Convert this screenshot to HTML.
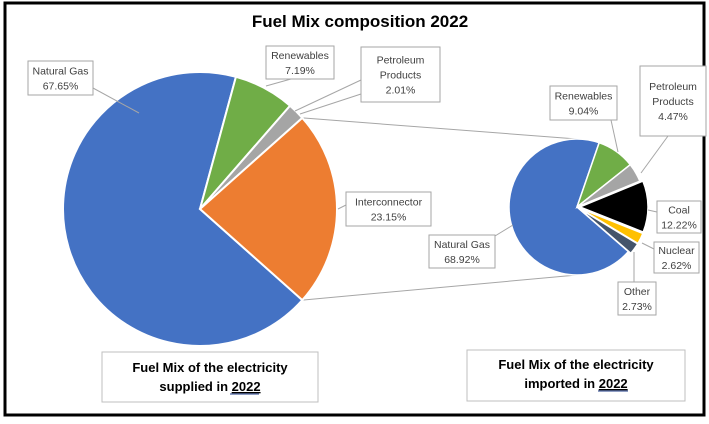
<!DOCTYPE html>
<html><head><meta charset="utf-8"><style>
html,body{margin:0;padding:0;background:#fff;}
body{width:709px;height:419px;overflow:hidden;font-family:"Liberation Sans",sans-serif;}
svg text{font-family:"Liberation Sans",sans-serif;}
</style></head><body>
<svg id="chart" width="709" height="419" viewBox="0 0 709 419" xmlns="http://www.w3.org/2000/svg">
<rect x="5" y="3" width="699" height="412" fill="#fff" stroke="#000" stroke-width="3"/>
<text x="360" y="27" text-anchor="middle" font-size="17" font-weight="bold" fill="#000">Fuel Mix composition 2022</text>
<g id="connectors"></g>
<g id="pies"></g>
<g id="labels"></g>
<g>
<rect x="102" y="352" width="216" height="50" fill="#fff" stroke="#bfbfbf"/>
<text x="210" y="372" text-anchor="middle" font-size="13" font-weight="bold">Fuel Mix of the electricity</text>
<text x="210" y="391" text-anchor="middle" font-size="13" font-weight="bold">supplied in <tspan text-decoration="underline">2022</tspan></text>
<line x1="230" y1="394" x2="259" y2="394" stroke="#1f3c88" stroke-width="1"/>
</g>
<g>
<rect x="467" y="350" width="218" height="51" fill="#fff" stroke="#bfbfbf"/>
<text x="576" y="369" text-anchor="middle" font-size="13" font-weight="bold">Fuel Mix of the electricity</text>
<text x="576" y="388" text-anchor="middle" font-size="13" font-weight="bold">imported in <tspan text-decoration="underline">2022</tspan></text>
<line x1="598" y1="391" x2="628" y2="391" stroke="#1f3c88" stroke-width="1"/>
</g>
</svg>
<script>
// Main pie data
const mainCategories = ["Natural Gas", "Renewables", "Petroleum Products", "Interconnector"];
const mainValues = [67.65, 7.19, 2.01, 23.15];
// Secondary pie data
const subCategories = ["Natural Gas", "Renewables", "Petroleum Products", "Coal", "Nuclear", "Other"];
const subValues = [68.92, 9.04, 4.47, 12.22, 2.62, 2.73];

const NS = "http://www.w3.org/2000/svg";
const mainColors = ["#4472c4", "#70ad47", "#a5a5a5", "#ed7d31"];
const subColors = ["#4472c4", "#70ad47", "#a5a5a5", "#000000", "#ffc000", "#44546a"];
const M = {cx: 200, cy: 209, r: 137};
const S = {cx: 577, cy: 207, r: 68};

function pt(c, r, deg) { const a = deg * Math.PI / 180; return [c.cx + r * Math.sin(a), c.cy - r * Math.cos(a)]; }
function arc(c, a0, a1, off) {
  const mid = (a0 + a1) / 2, a = mid * Math.PI / 180;
  const cc = {cx: c.cx + off * Math.sin(a), cy: c.cy - off * Math.cos(a)};
  const p0 = pt(cc, c.r, a0), p1 = pt(cc, c.r, a1);
  const large = (a1 - a0) > 180 ? 1 : 0;
  return `M${cc.cx},${cc.cy}L${p0[0]},${p0[1]}A${c.r},${c.r} 0 ${large} 1 ${p1[0]},${p1[1]}Z`;
}
const pies = document.getElementById('pies');
function slug(s){return s.toLowerCase().replace(/[^a-z0-9]+/g,'-');}

// Main pie: interconnector (last) centered at east (90deg)
const mTot = mainValues.reduce((a, b) => a + b, 0);
const interDeg = mainValues[3] / mTot * 360;
let mStart = [];
{
  let a = 90 - interDeg / 2; // interconnector start
  mStart[3] = a;
  // preceding slices counterclockwise
  for (let i = 2; i >= 0; i--) { a -= mainValues[i] / mTot * 360; mStart[i] = a; }
}
let mAngles = [];
for (let i = 0; i < mainValues.length; i++) {
  const a0 = mStart[i], a1 = a0 + mainValues[i] / mTot * 360;
  mAngles.push([a0, a1]);
  const p = document.createElementNS(NS, 'path');
  p.setAttribute('d', arc(M, a0, a1, 0));
  p.setAttribute('fill', mainColors[i]);
  p.setAttribute('stroke', '#fff');
  p.setAttribute('stroke-width', '2');
  
  
  pies.appendChild(p);
}
// Sub pie: starts after natural gas, placed so natural gas ends at ~19deg
const sTot = subValues.reduce((a, b) => a + b, 0);
let sA = 19 - subValues[0] / sTot * 360;
for (let i = 0; i < subValues.length; i++) {
  const d = subValues[i] / sTot * 360;
  const p = document.createElementNS(NS, 'path');
  p.setAttribute('d', arc(S, sA, sA + d, i >= 3 ? 3 : 0));
  p.setAttribute('fill', subColors[i]);
  p.setAttribute('stroke', '#fff');
  p.setAttribute('stroke-width', '1.5');
  
  
  pies.appendChild(p);
  sA += d;
}
// Connector lines
const con = document.getElementById('connectors');
const ia = mAngles[3];
const cTop = pt(M, M.r, ia[0]), cBot = pt(M, M.r, ia[1]);
[[cTop, [S.cx, S.cy - S.r]], [cBot, [S.cx, S.cy + S.r]]].forEach((pr, k) => {
  const l = document.createElementNS(NS, 'line');
  l.setAttribute('x1', pr[0][0]); l.setAttribute('y1', pr[0][1]);
  l.setAttribute('x2', pr[1][0]); l.setAttribute('y2', pr[1][1]);
  l.setAttribute('stroke', '#a6a6a6'); l.setAttribute('stroke-width', '1');
  
  
  con.appendChild(l);
});

// Labels (box positions)
const labelDefs = [
  {name:"main-label-natural-gas", lines:[mainCategories[0], mainValues[0].toFixed(2)+"%"], x:28,y:61,w:65,h:34, lead:[[93,88],[139,113]]},
  {name:"main-label-renewables", lines:[mainCategories[1], mainValues[1].toFixed(2)+"%"], x:266,y:46,w:68,h:33, lead:[[291,79],[266,86]]},
  {name:"main-label-petroleum", lines:["Petroleum","Products", mainValues[2].toFixed(2)+"%"], x:361,y:47,w:79,h:55, lead:[[361,80],[295,111],[361,94],[300,114]]},
  {name:"main-label-interconnector", lines:[mainCategories[3], mainValues[3].toFixed(2)+"%"], x:346,y:192,w:85,h:34, lead:[[346,205],[338,209]]},
  {name:"sub-label-renewables", lines:[subCategories[1], subValues[1].toFixed(2)+"%"], x:550,y:86,w:67,h:34, lead:[[611,120],[618,152]]},
  {name:"sub-label-petroleum", lines:["Petroleum","Products", subValues[2].toFixed(2)+"%"], x:640,y:66,w:66,h:70, lead:[[668,136],[641,173]]},
  {name:"sub-label-coal", lines:[subCategories[3], subValues[3].toFixed(2)+"%"], x:657,y:201,w:44,h:32, lead:[[657,212],[648,210]]},
  {name:"sub-label-nuclear", lines:[subCategories[4], subValues[4].toFixed(2)+"%"], x:654,y:242,w:45,h:31, lead:[[654,249],[642,243]]},
  {name:"sub-label-other", lines:[subCategories[5], subValues[5].toFixed(2)+"%"], x:618,y:282,w:38,h:33, lead:[[634,282],[634,252]]},
  {name:"sub-label-natural-gas", lines:[subCategories[0], subValues[0].toFixed(2)+"%"], x:429,y:235,w:66,h:33, lead:[[495,236],[513,225]]}
];
const lg = document.getElementById('labels');
labelDefs.forEach(d => {
  const g = document.createElementNS(NS, 'g');
  
  
  for (let i = 0; i + 1 < d.lead.length; i += 2) {
    const l = document.createElementNS(NS, 'line');
    l.setAttribute('x1', d.lead[i][0]); l.setAttribute('y1', d.lead[i][1]);
    l.setAttribute('x2', d.lead[i+1][0]); l.setAttribute('y2', d.lead[i+1][1]);
    l.setAttribute('stroke', '#a6a6a6');
    g.appendChild(l);
  }
  const r = document.createElementNS(NS, 'rect');
  r.setAttribute('x', d.x); r.setAttribute('y', d.y); r.setAttribute('width', d.w); r.setAttribute('height', d.h);
  r.setAttribute('fill', '#fff'); r.setAttribute('stroke', '#a6a6a6');
  g.appendChild(r);
  const n = d.lines.length, lh = 15;
  const y0 = d.y + d.h / 2 - (n - 1) * lh / 2 + 4;
  d.lines.forEach((s, i) => {
    const t = document.createElementNS(NS, 'text');
    t.setAttribute('x', d.x + d.w / 2); t.setAttribute('y', y0 + i * lh);
    t.setAttribute('text-anchor', 'middle'); t.setAttribute('font-size', '10.5'); t.setAttribute('fill', '#404040');
    t.textContent = s;
    g.appendChild(t);
  });
  lg.appendChild(g);
});
</script>
</body></html>
